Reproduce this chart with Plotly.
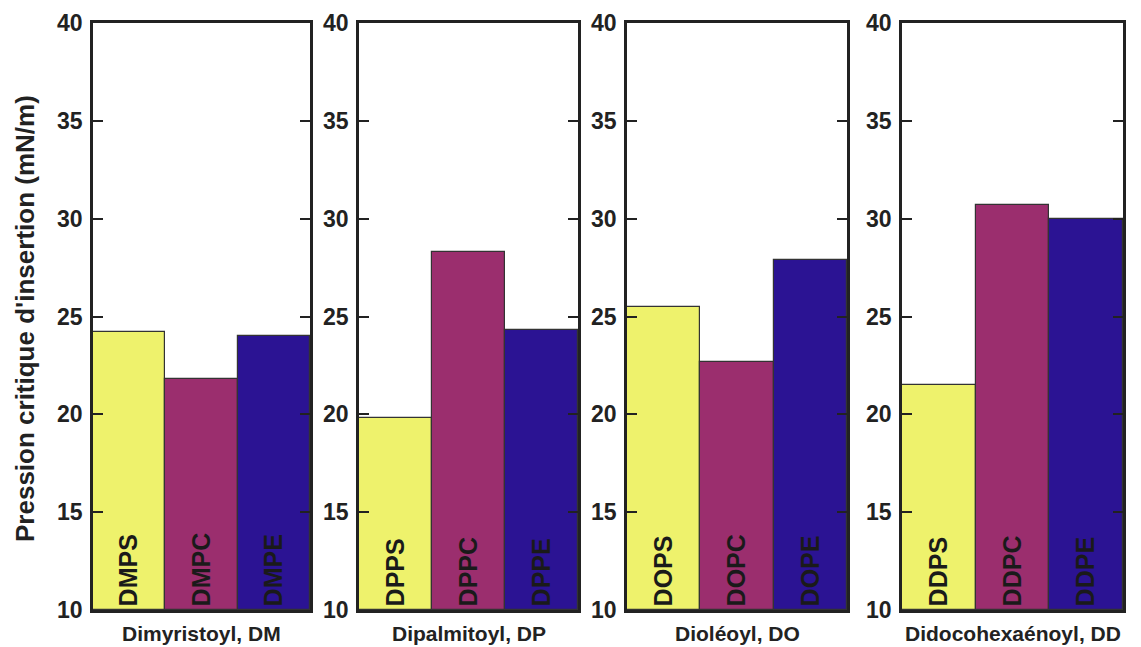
import plotly.graph_objects as go

groups = ["Dimyristoyl, DM", "Dipalmitoyl, DP", "Dioléoyl, DO", "Didocohexaénoyl, DD"]
labels = [["DMPS", "DMPC", "DMPE"],
          ["DPPS", "DPPC", "DPPE"],
          ["DOPS", "DOPC", "DOPE"],
          ["DDPS", "DDPC", "DDPE"]]
values = [[24.2, 21.8, 24.0],
          [19.8, 28.3, 24.3],
          [25.5, 22.7, 27.9],
          [21.5, 30.7, 30.0]]
colors = ["#EEF26C", "#9B2E6E", "#2B1393"]
y_title = "Pression critique d'insertion (mN/m)"
y_ticks = [10, 15, 20, 25, 30, 35, 40]

W, H = 1141, 647
px_x = [(93, 310), (359, 578), (627, 847), (902, 1123)]
y_top, y_bot = 23, 610

FONT = "Liberation Sans, Arial, sans-serif"
fig = go.Figure()
layout = dict(
    width=W, height=H, margin=dict(l=0, r=0, t=0, b=0, autoexpand=False),
    paper_bgcolor="white", plot_bgcolor="white",
    bargap=0, showlegend=False,
    font=dict(family=FONT, color="#222222"),
)
annotations = []
for i in range(4):
    s = "" if i == 0 else str(i + 1)
    fig.add_trace(go.Bar(
        x=[0, 1, 2], y=[v - 10 for v in values[i]], base=10,
        marker=dict(color=colors, line=dict(color="#333333", width=1.2)),
        text=labels[i], textposition="inside", insidetextanchor="start",
        textangle=-90, textfont=dict(family=FONT, size=25, color="#1a1a1a", weight="bold"),
        constraintext="none", cliponaxis=False,
        xaxis="x" + s, yaxis="y" + s, width=1,
    ))
    x0, x1 = px_x[i]
    layout["xaxis" + s] = dict(
        domain=[x0 / W, x1 / W], range=[-0.5, 2.5], anchor="y" + s,
        showticklabels=False, ticks="", showgrid=False, zeroline=False,
        showline=True, linecolor="#222222", linewidth=2.5, mirror=True,
        fixedrange=True, automargin=False,
    )
    layout["yaxis" + s] = dict(
        domain=[1 - y_bot / H, 1 - y_top / H], range=[10, 40], anchor="x" + s,
        tickvals=y_ticks, ticks="inside", ticklen=10, tickwidth=2, tickcolor="#222222",
        showgrid=False, zeroline=False, automargin=False,
        showline=True, linecolor="#222222", linewidth=2.5, mirror="ticks",
        tickfont=dict(family=FONT, size=23, color="#222222", weight="bold"),
        ticklabelstandoff=3,
    )
    annotations.append(dict(
        text="<b>" + groups[i] + "</b>", xref="paper", yref="paper",
        x=(x0 + x1) / 2 / W, y=1 - 633 / H, xanchor="center", yanchor="middle",
        showarrow=False, borderpad=0,
        font=dict(family=FONT, size=21, color="#222222"),
    ))
annotations.append(dict(
    text="<b>" + y_title + "</b>", xref="paper", yref="paper",
    x=25 / W, y=1 - 319 / H, xanchor="center", yanchor="middle", textangle=-90,
    showarrow=False, font=dict(family=FONT, size=26, color="#222222"),
))
layout["annotations"] = annotations
fig.update_layout(**layout)
fig.write_html("out.html")
